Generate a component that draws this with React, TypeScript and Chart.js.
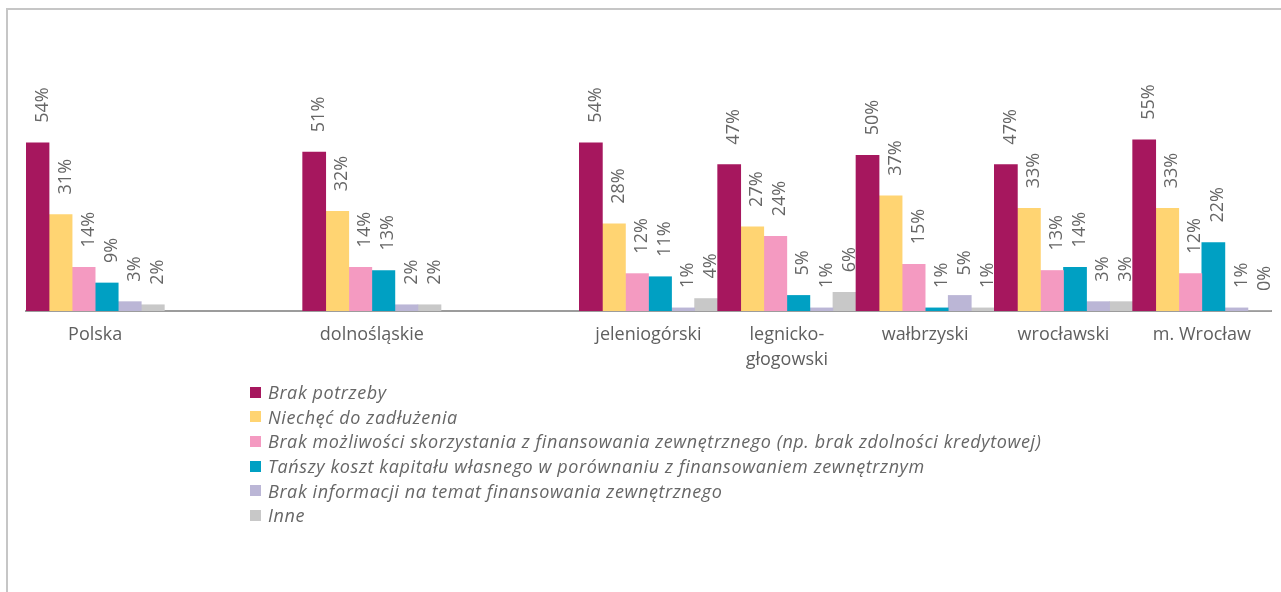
import React, { useEffect, useRef } from "react";
import { Chart, registerables } from "chart.js";

Chart.register(...registerables);

const categories: (string | string[])[] = [
  "Polska",
  "",
  "dolnośląskie",
  "",
  "jeleniogórski",
  ["legnicko-", "głogowski"],
  "wałbrzyski",
  "wrocławski",
  "m. Wrocław",
];

const seriesNames = [
  "Brak potrzeby",
  "Niechęć do zadłużenia",
  "Brak możliwości skorzystania z finansowania zewnętrznego (np. brak zdolności kredytowej)",
  "Tańszy koszt kapitału własnego w porównaniu z finansowaniem zewnętrznym",
  "Brak informacji na temat finansowania zewnętrznego",
  "Inne",
];

const seriesColors = ["#A6175E", "#FFD472", "#F49AC1", "#00A0C3", "#BBB6D6", "#C8C8C8"];

const brakPotrzeby = [54, null, 51, null, 54, 47, 50, 47, 55];
const niechec = [31, null, 32, null, 28, 27, 37, 33, 33];
const brakMozliwosci = [14, null, 14, null, 12, 24, 15, 13, 12];
const tanszyKoszt = [9, null, 13, null, 11, 5, 1, 14, 22];
const brakInformacji = [3, null, 2, null, 1, 1, 5, 3, 1];
const inne = [2, null, 2, null, 4, 6, 1, 3, 0];

const seriesValues = [brakPotrzeby, niechec, brakMozliwosci, tanszyKoszt, brakInformacji, inne];

const FONT = "'Open Sans', 'Noto Sans', sans-serif";

const labelPlugin = {
  id: "barLabels",
  afterDatasetsDraw(chart: any) {
    const ctx = chart.ctx;
    ctx.save();
    ctx.font = `18px ${FONT}`;
    ctx.fillStyle = "#666666";
    ctx.textAlign = "left";
    ctx.textBaseline = "middle";
    chart.data.datasets.forEach((ds: any, di: number) => {
      const meta = chart.getDatasetMeta(di);
      meta.data.forEach((bar: any, i: number) => {
        const v = ds.data[i];
        if (v === null || v === undefined) return;
        ctx.save();
        ctx.translate(bar.x + 5, bar.y - 20);
        ctx.rotate(-Math.PI / 2);
        ctx.fillText(`${v}%`, 0, 0);
        ctx.restore();
      });
    });
    ctx.restore();
  },
};

export default function App() {
  const ref = useRef<HTMLCanvasElement>(null);

  useEffect(() => {
    if (!ref.current) return;
    const chart = new Chart(ref.current, {
      type: "bar",
      data: {
        labels: categories,
        datasets: seriesNames.map((name, k) => ({
          label: name,
          data: seriesValues[k],
          backgroundColor: seriesColors[k],
          borderWidth: 0,
          categoryPercentage: 1,
          barPercentage: 1,
        })),
      },
      options: {
        animation: false,
        responsive: false,
        maintainAspectRatio: false,
        layout: { padding: { left: 26, right: 10, top: 93, bottom: 221 } },
        plugins: {
          legend: { display: false },
          tooltip: { enabled: false },
        },
        scales: {
          x: {
            grid: { display: false, drawTicks: false },
            border: { display: true, color: "#9c9c9c", width: 2 },
            ticks: {
              color: "#5f5f5f",
              font: { family: FONT, size: 18, lineHeight: 1.35 },
              padding: 12,
              maxRotation: 0,
              autoSkip: false,
            },
            afterFit: (scale: any) => {
              scale.height = 60;
            },
          },
          y: {
            display: false,
            min: 0,
            max: 70,
          },
        },
      },
      plugins: [labelPlugin],
    });
    return () => chart.destroy();
  }, []);

  return (
    <div
      style={{
        position: "fixed",
        left: 0,
        top: 0,
        width: 1281,
        height: 592,
        background: "#ffffff",
        overflow: "hidden",
      }}
    >
      <div
        style={{
          position: "absolute",
          left: 6,
          top: 8,
          width: 1300,
          height: 620,
          borderTop: "2px solid #c6c6c6",
          borderLeft: "2px solid #c6c6c6",
        }}
      />
      <canvas
        ref={ref}
        width={1281}
        height={592}
        style={{ position: "absolute", left: 0, top: 0, width: 1281, height: 592 }}
      />
      <div style={{ position: "absolute", left: 250, top: 380 }}>
        {seriesNames.map((name, k) => (
          <div
            key={name}
            style={{
              display: "flex",
              alignItems: "center",
              height: 24.6,
              fontFamily: FONT,
              fontStyle: "italic",
              fontSize: 18,
              letterSpacing: 0.6,
              color: "#666666",
              whiteSpace: "nowrap",
            }}
          >
            <span
              style={{
                display: "inline-block",
                width: 11,
                height: 11,
                background: seriesColors[k],
                marginRight: 7,
              }}
            />
            <span>{name}</span>
          </div>
        ))}
      </div>
    </div>
  );
}
